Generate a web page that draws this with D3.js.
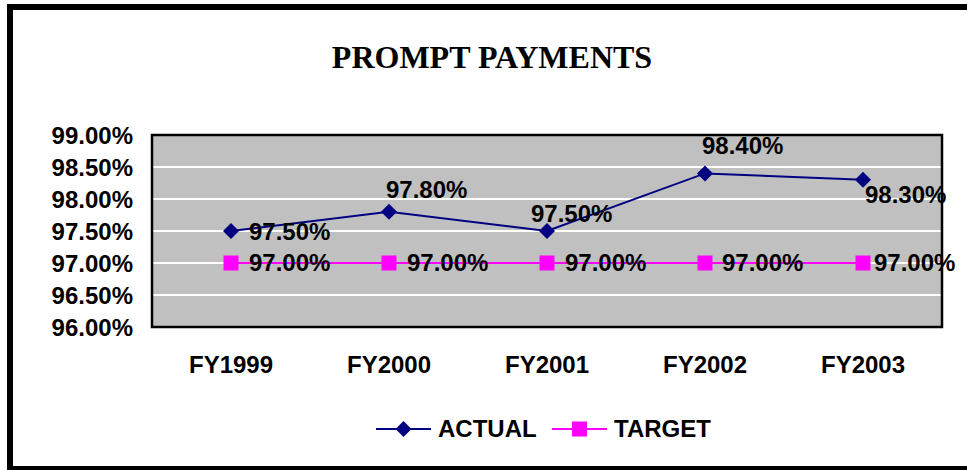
<!DOCTYPE html>
<html>
<head>
<meta charset="utf-8">
<script src="https://cdn.jsdelivr.net/npm/d3@7"></script>
<style>
  html, body { margin: 0; padding: 0; background: #fff; }
  svg { display: block; }
  text { font-family: "Liberation Sans", Arial, sans-serif; font-weight: bold; fill: #000; }
</style>
</head>
<body>
<svg id="chart" width="967" height="470"></svg>
<script>
// ---- data ----
const categories = ["FY1999", "FY2000", "FY2001", "FY2002", "FY2003"];
const actualValues = [97.5, 97.8, 97.5, 98.4, 98.3];
const targetValues = [97.0, 97.0, 97.0, 97.0, 97.0];
const yTicks = [96.0, 96.5, 97.0, 97.5, 98.0, 98.5, 99.0];
const seriesNames = ["ACTUAL", "TARGET"];
const titleText = "PROMPT PAYMENTS";

// ---- label placement (style) ----
const actualLabelOffsets = [[18, 9], [-3, -14], [-16, -9], [-3, -19], [2, 23]];
const targetLabelOffsets = [[18, 8], [18, 8], [18, 8], [17, 8], [11, 8]];

const svg = d3.select("#chart");
const W = 967, H = 470;
const plot = { left: 152, right: 942, top: 135, bottom: 327 };

const x = d3.scaleBand().domain(categories).range([plot.left, plot.right]).padding(0);
const y = d3.scaleLinear().domain([96, 99]).range([plot.bottom, plot.top]);
const cx = c => x(c) + x.bandwidth() / 2;
const fmt = v => d3.format(".2f")(v) + "%";

// outer border
svg.append("rect")
  .attr("x", 10).attr("y", 7).attr("width", 975).attr("height", 462)
  .attr("fill", "#fff").attr("stroke", "#000").attr("stroke-width", 6);

// title
svg.append("text")
  .attr("x", 492).attr("y", 68)
  .attr("text-anchor", "middle")
  .style("font-family", "'Liberation Serif', 'Times New Roman', serif")
  .style("font-size", "32px")
  .text(titleText);

// plot background
svg.append("rect")
  .attr("x", plot.left).attr("y", plot.top)
  .attr("width", plot.right - plot.left).attr("height", plot.bottom - plot.top)
  .attr("fill", "#C0C0C0");

// gridlines
svg.append("g").selectAll("line")
  .data(yTicks.filter(t => t > 96 && t < 99))
  .join("line")
  .attr("x1", plot.left).attr("x2", plot.right)
  .attr("y1", d => y(d)).attr("y2", d => y(d))
  .attr("stroke", "#fff").attr("stroke-width", 2);

// plot border
svg.append("rect")
  .attr("x", plot.left).attr("y", plot.top)
  .attr("width", plot.right - plot.left).attr("height", plot.bottom - plot.top)
  .attr("fill", "none").attr("stroke", "#000").attr("stroke-width", 2.5);

// y axis
const yAxis = svg.append("g")
  .attr("transform", `translate(${plot.left - 19},0)`)
  .call(d3.axisLeft(y).tickValues(yTicks).tickFormat(fmt).tickSize(0).tickPadding(0));
yAxis.select(".domain").remove();
yAxis.selectAll("text")
  .style("font-family", "'Liberation Sans', Arial, sans-serif")
  .style("font-size", "24px").style("font-weight", "bold")
  .attr("dy", "0.37em");

// x axis
const xAxis = svg.append("g")
  .attr("transform", `translate(0,${plot.bottom})`)
  .call(d3.axisBottom(x).tickSize(0).tickPadding(0));
xAxis.select(".domain").remove();
xAxis.selectAll("text")
  .style("font-family", "'Liberation Sans', Arial, sans-serif")
  .style("font-size", "24px").style("font-weight", "bold")
  .attr("dy", 0).attr("y", 46);

// lines
const line = d3.line().x((d, i) => cx(categories[i])).y(d => y(d));
svg.append("path").datum(targetValues)
  .attr("d", line).attr("fill", "none").attr("stroke", "#FF00FF").attr("stroke-width", 2);
svg.append("path").datum(actualValues)
  .attr("d", line).attr("fill", "none").attr("stroke", "#000080").attr("stroke-width", 2);

// markers
const diamond = s => `M0,${-s} L${s},0 L0,${s} L${-s},0 Z`;
svg.append("g").selectAll("rect")
  .data(targetValues).join("rect")
  .attr("x", (d, i) => cx(categories[i]) - 7.5)
  .attr("y", d => y(d) - 7.5)
  .attr("width", 15).attr("height", 15)
  .attr("fill", "#FF00FF");
svg.append("g").selectAll("path")
  .data(actualValues).join("path")
  .attr("transform", (d, i) => `translate(${cx(categories[i])},${y(d)})`)
  .attr("d", diamond(8))
  .attr("fill", "#000080");

// data labels
svg.append("g").selectAll("text")
  .data(actualValues).join("text")
  .attr("x", (d, i) => cx(categories[i]) + actualLabelOffsets[i][0])
  .attr("y", (d, i) => y(d) + actualLabelOffsets[i][1])
  .style("font-size", "24px")
  .text(d => fmt(d));
svg.append("g").selectAll("text")
  .data(targetValues).join("text")
  .attr("x", (d, i) => cx(categories[i]) + targetLabelOffsets[i][0])
  .attr("y", (d, i) => y(d) + targetLabelOffsets[i][1])
  .style("font-size", "24px")
  .text(d => fmt(d));

// legend
const legend = svg.append("g");
const legendItems = [
  { name: seriesNames[0], color: "#000080", x0: 376, marker: "diamond" },
  { name: seriesNames[1], color: "#FF00FF", x0: 552, marker: "square" }
];
const ly = 429;
legendItems.forEach(it => {
  legend.append("line")
    .attr("x1", it.x0).attr("x2", it.x0 + 55)
    .attr("y1", ly).attr("y2", ly)
    .attr("stroke", it.color).attr("stroke-width", 2);
  if (it.marker === "diamond") {
    legend.append("path")
      .attr("transform", `translate(${it.x0 + 27.5},${ly})`)
      .attr("d", diamond(8)).attr("fill", it.color);
  } else {
    legend.append("rect")
      .attr("x", it.x0 + 27.5 - 7.5).attr("y", ly - 7.5)
      .attr("width", 15).attr("height", 15).attr("fill", it.color);
  }
  legend.append("text")
    .attr("x", it.x0 + 62).attr("y", ly + 8)
    .style("font-size", "24px")
    .text(it.name);
});
</script>
</body>
</html>
